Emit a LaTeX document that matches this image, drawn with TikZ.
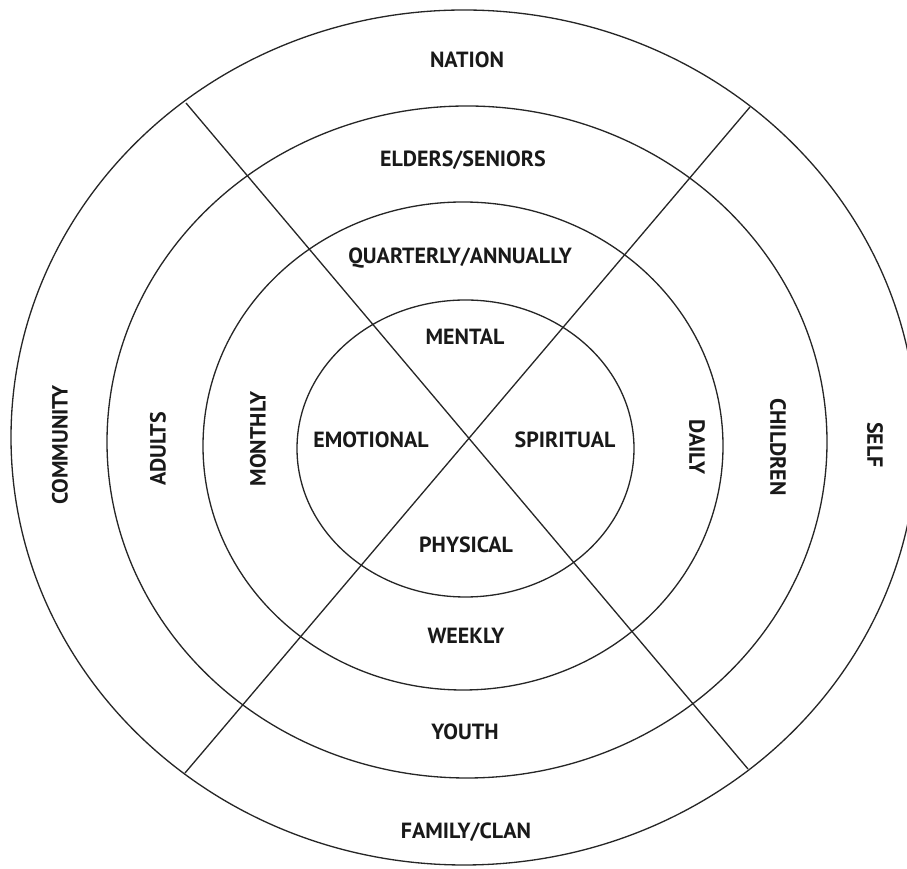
\documentclass[tikz,border=0pt]{standalone}
\usepackage{fontspec}
\setmainfont{PT Sans}
\usepackage{xcolor}

\begin{document}
\begin{tikzpicture}[x=0.02cm,y=0.02cm]
\tikzset{ring/.style={draw=black!85,line width=0.75pt}}
\tikzset{spoke/.style={draw=black!85,line width=0.75pt}}
\tikzset{lbl/.style={text=black!90,font=\bfseries\fontsize{12.5}{14}\selectfont,inner sep=0pt}}

\useasboundingbox (0,0) rectangle (907,869);
\clip (0,0) rectangle (907,869);

% rings, outside in
\draw[ring] (464,431.5) ellipse [x radius=453, y radius=427.5];
\draw[ring] (467,427) ellipse [x radius=360, y radius=336];
\draw[ring] (463,423) ellipse [x radius=260, y radius=244];
\draw[ring] (465.5,420.5) ellipse [x radius=168.5, y radius=148.5];

% the two crossing lines
\coordinate (nw) at (186,766);
\coordinate (se) at (748,100);
\coordinate (ne) at (750,762);
\coordinate (sw) at (185,96);
\draw[spoke] (nw) -- (se);
\draw[spoke] (ne) -- (sw);

\node[lbl] (nation) at (467,809) {NATION};
\node[lbl] (elders) at (463,709) {ELDERS/SENIORS};
\node[lbl] (quarterly) at (460,611) {QUARTERLY/ANNUALLY};
\node[lbl] (mental) at (465,532) {MENTAL};
\node[lbl] (emotional) at (371,429) {EMOTIONAL};
\node[lbl] (spiritual) at (565,429) {SPIRITUAL};
\node[lbl] (physical) at (466,324) {PHYSICAL};
\node[lbl] (weekly) at (466,233) {WEEKLY};
\node[lbl] (youth) at (465,137) {YOUTH};
\node[lbl] (family) at (466,37) {FAMILY/CLAN};

\node[lbl,rotate=90] (community) at (60,424) {COMMUNITY};
\node[lbl,rotate=90] (adults) at (158,420) {ADULTS};
\node[lbl,rotate=90] (monthly) at (258,430) {MONTHLY};
\node[lbl,rotate=-90] (daily) at (697,422) {DAILY};
\node[lbl,rotate=-90] (children) at (778,422) {CHILDREN};
\node[lbl,rotate=-90] (self) at (875,424) {SELF};

\end{tikzpicture}
\end{document}
